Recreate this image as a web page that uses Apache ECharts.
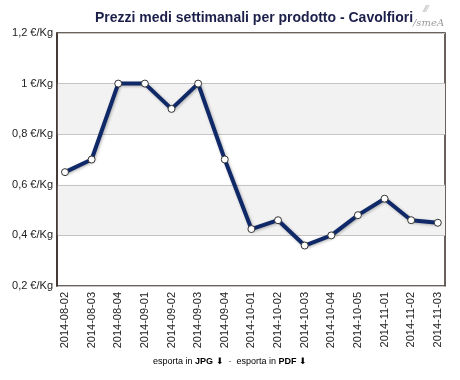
<!DOCTYPE html>
<html><head><meta charset="utf-8">
<script src="https://cdn.jsdelivr.net/npm/echarts@6/dist/echarts.min.js"></script>
<style>html,body{margin:0;padding:0;background:#fff}#c{width:460px;height:380px}</style>
</head><body><div id="c"></div>
<script>
const categories = ["2014-08-02","2014-08-03","2014-08-04","2014-09-01","2014-09-02","2014-09-03","2014-09-04","2014-10-01","2014-10-02","2014-10-03","2014-10-04","2014-10-05","2014-11-01","2014-11-02","2014-11-03"];
const prices = [0.65,0.70,1.0,1.0,0.90,1.0,0.70,0.425,0.46,0.36,0.40,0.48,0.545,0.46,0.45];
const yTicks = [0.2,0.4,0.6,0.8,1.0,1.2];
const titleText = "Prezzi medi settimanali per prodotto - Cavolfiori";
const FONT = "Liberation Sans, Arial, sans-serif";

const chart = echarts.init(document.getElementById('c'), null, {renderer:'canvas'});
chart.setOption({
  animation:false,
  backgroundColor:'#fff',
  title:{text:titleText,left:249,textAlign:'center',top:6,
    textStyle:{fontFamily:FONT,fontSize:14,fontWeight:'bold',color:'#1c1f4a'}},
  grid:{left:57,right:15,top:33,bottom:94,show:true,borderColor:'#3a2e28',borderWidth:1.5,backgroundColor:'transparent'},
  xAxis:{type:'value',min:-0.3,max:14.27,
    axisLine:{show:false},axisTick:{show:false},splitLine:{show:false},
    axisLabel:{customValues:categories.map((c,i)=>i),rotate:90,margin:6,
      fontFamily:FONT,fontSize:11,color:'#222',
      formatter:v=>categories[Math.round(v)]}},
  yAxis:{type:'value',min:0.2,max:1.2,interval:0.2,
    axisLine:{show:true,onZero:false,lineStyle:{color:'#3a2e28',width:1.5}},axisTick:{show:false},
    splitLine:{show:true,lineStyle:{color:'#c4c4c4',width:1}},
    splitArea:{show:true,areaStyle:{color:['rgba(255,255,255,0)','#f2f2f2']}},
    axisLabel:{margin:4,fontFamily:FONT,fontSize:11,color:'#222',
      formatter:v=>{const t=yTicks.find(x=>Math.abs(x-v)<1e-6);return (t===undefined?v:t).toString().replace('.',',')+' €/Kg';}}},
  series:[{type:'line',data:prices.map((p,i)=>[i,p]),
    lineStyle:{color:'#0f2868',width:4,shadowColor:'rgba(0,0,0,0.3)',shadowBlur:3,shadowOffsetX:1,shadowOffsetY:1},
    symbol:'circle',symbolSize:7,
    itemStyle:{color:'#fff',borderColor:'#333',borderWidth:1}}],
  graphic:[
    {type:'text',left:413,top:18,style:{text:'/smeA',font:'italic 10px DejaVu Serif, serif',fill:'#9a9a9a'}},
    {type:'text',left:424,top:6,style:{text:'⁄⁄⁄',font:'8px DejaVu Sans',fill:'#b0b0b0'}},
    {type:'text',left:'center',top:357,style:{text:'{a|esporta in }{b|JPG}{c| ⬇  ·  }{a|esporta in }{b|PDF}{c| ⬇}',
      rich:{a:{fontFamily:FONT,fontSize:9,color:'#555'},b:{fontFamily:FONT,fontSize:9,fontWeight:'bold',color:'#2a4894'},c:{fontFamily:FONT,fontSize:9,color:'#888'}}}}
  ]
});
</script></body></html>
